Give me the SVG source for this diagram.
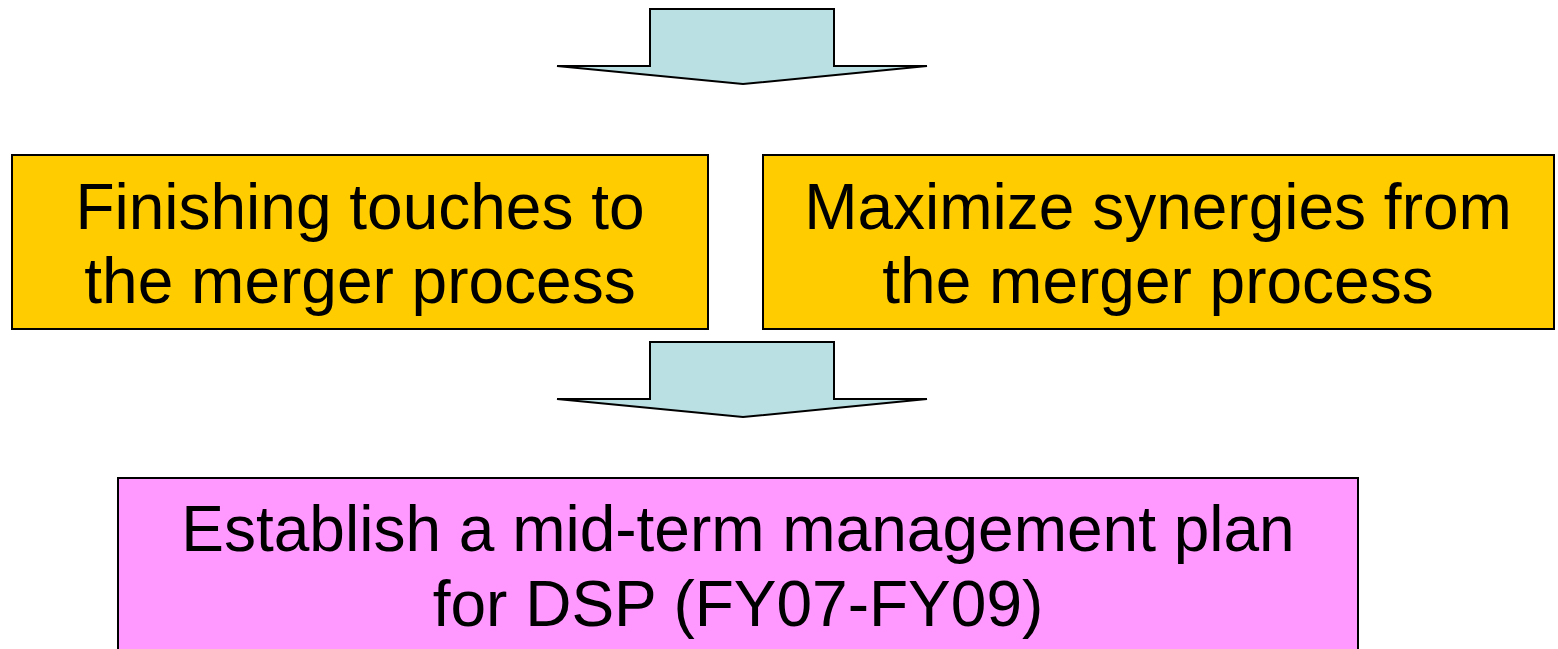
<svg xmlns="http://www.w3.org/2000/svg" width="1558" height="649" viewBox="0 0 1558 649">
<style>
.box{stroke:#000;stroke-width:2}
.y{fill:#FFCC00}
.p{fill:#FF99FF}
.arr{fill:#BBE0E3;stroke:#000;stroke-width:2;stroke-linejoin:miter}
.t{font-family:"Liberation Sans",Arial,sans-serif;font-size:64px;fill:#000;text-anchor:middle}
</style>
<rect width="1558" height="649" fill="#fff"/>
<g id="connectors">
<path id="arrow1" class="arr" d="M650,9 H834 V66 H927 L743,84 L557,66 H650 Z"/>
<path id="arrow2" class="arr" d="M650,342 H834 V399 H927 L743,417 L557,399 H650 Z"/>
</g>
<g id="node1">
<rect class="box y" x="12" y="155" width="696" height="174"/>
<text class="t" x="360" y="229">Finishing touches to</text>
<text class="t" x="360" y="303">the merger process</text>
</g>
<g id="node2">
<rect class="box y" x="763" y="155" width="791" height="174"/>
<text class="t" x="1158" y="229">Maximize synergies from</text>
<text class="t" x="1158" y="303">the merger process</text>
</g>
<g id="node3">
<rect class="box p" x="118" y="478" width="1240" height="190"/>
<text class="t" x="738" y="551">Establish a mid-term management plan</text>
<text class="t" x="738" y="626">for DSP (FY07-FY09)</text>
</g>
</svg>
